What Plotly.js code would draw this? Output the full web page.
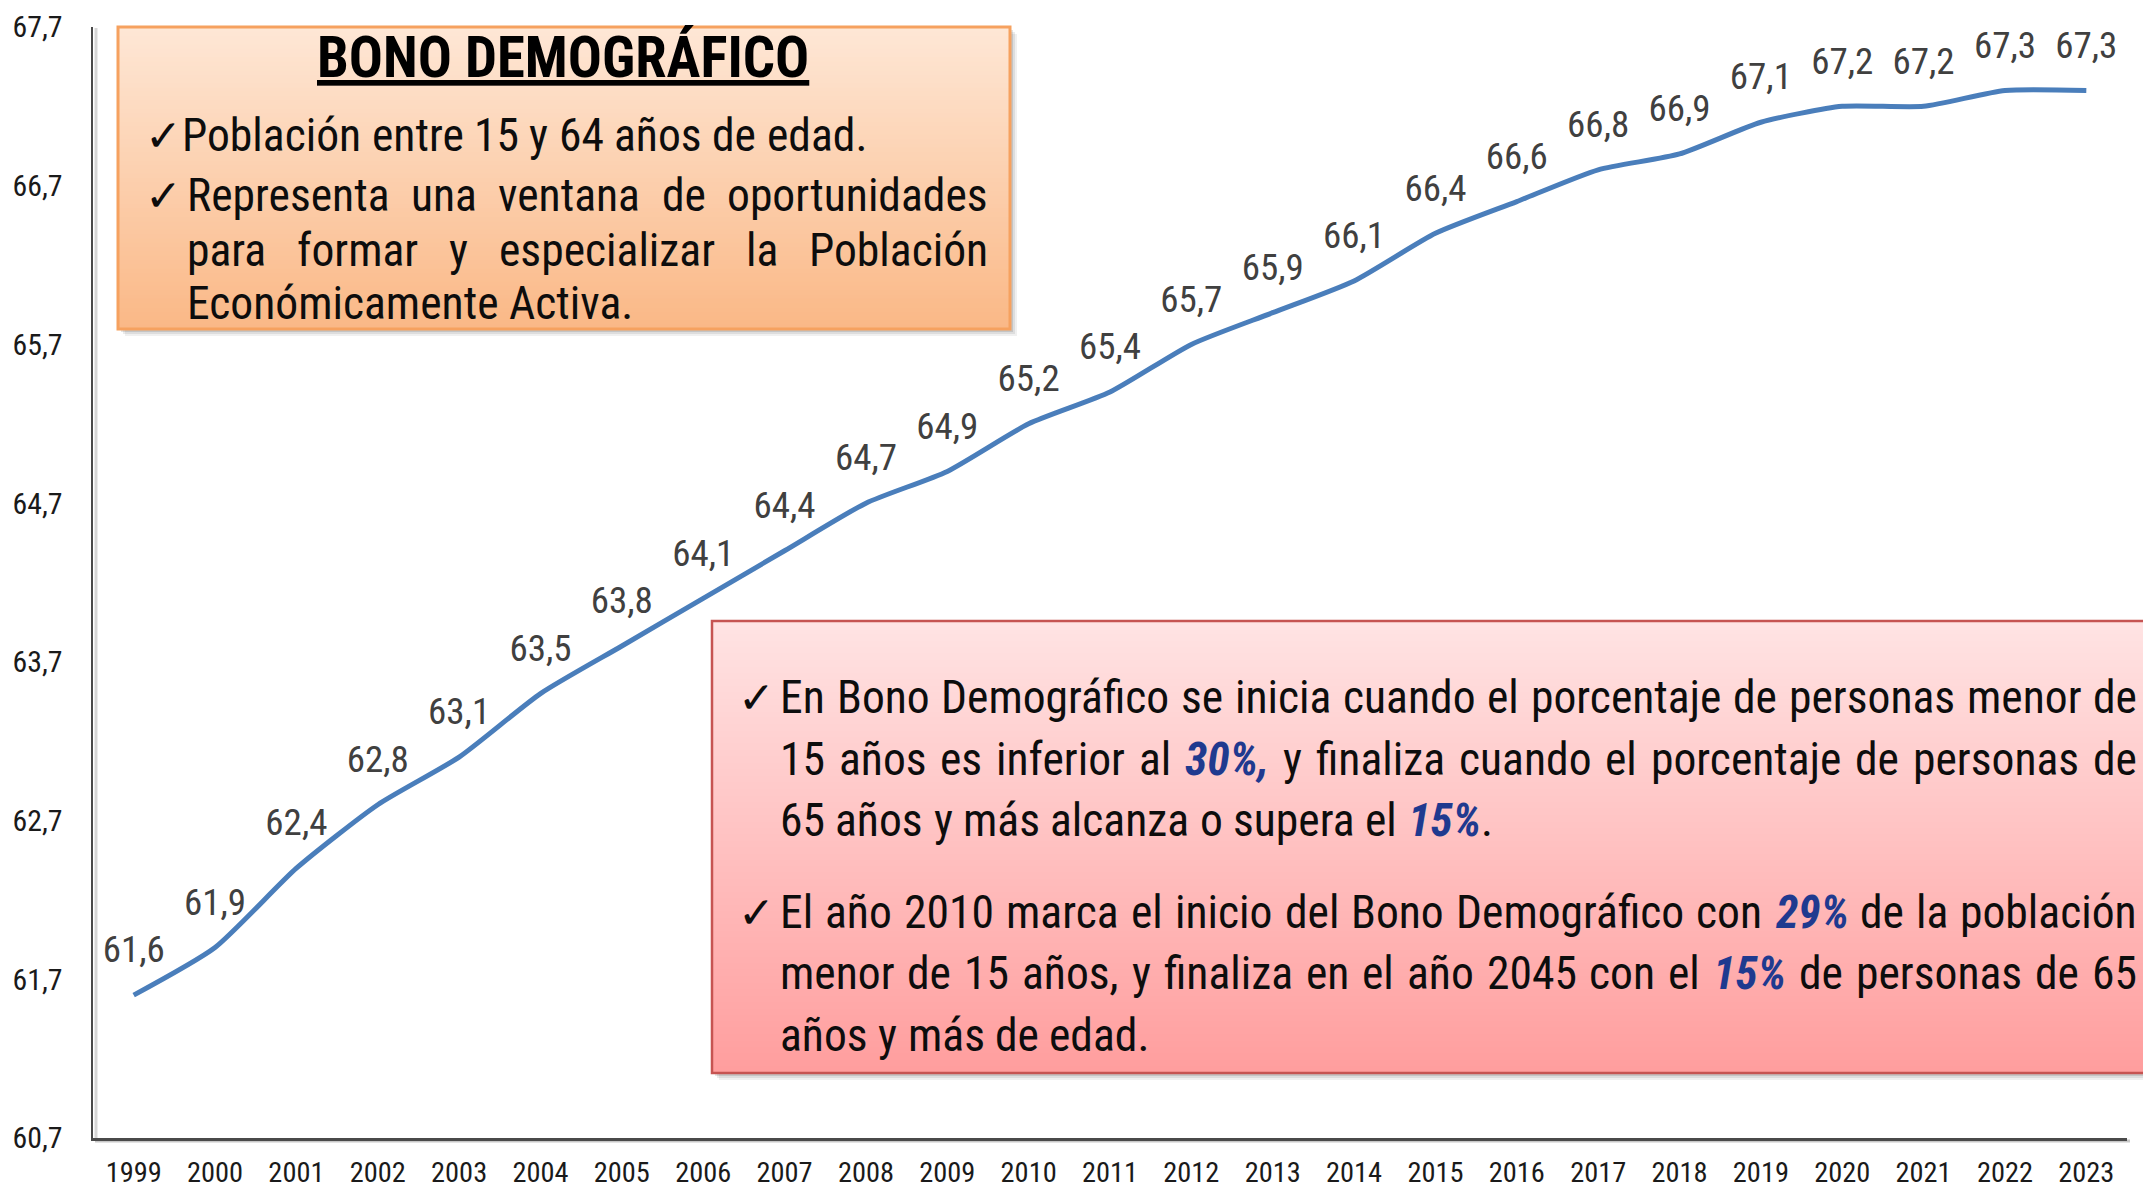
<!DOCTYPE html>
<html>
<head>
<meta charset="utf-8">
<script src="https://cdn.plot.ly/plotly-3.0.1.min.js"></script>
<style>html,body{margin:0;padding:0;background:#fff;overflow:hidden}</style>
</head>
<body>
<div id="chart" style="width:2143px;height:1189px"></div>
<script>
// ---------------- DATA ----------------
const years = ['1999','2000','2001','2002','2003','2004','2005','2006','2007','2008','2009','2010',
  '2011','2012','2013','2014','2015','2016','2017','2018','2019','2020','2021','2022','2023'];
const bonoValues = [61.6,61.9,62.4,62.8,63.1,63.5,63.8,64.1,64.4,64.7,64.9,65.2,
  65.4,65.7,65.9,66.1,66.4,66.6,66.8,66.9,67.1,67.2,67.2,67.3,67.3];
const yTickValues = [60.7,61.7,62.7,63.7,64.7,65.7,66.7,67.7];

const box1Title = 'BONO DEMOGRÁFICO';
const box1Text = [
  'Población entre 15 y 64 años de edad.',
  'Representa una ventana de oportunidades',
  'para formar y especializar la Población',
  'Económicamente Activa.'
];
// *...* marks the blue bold-italic figures
const box2Text = [
  'En Bono Demográfico se inicia cuando el porcentaje de personas menor de',
  '15 años es inferior al *30%,* y finaliza cuando el porcentaje de personas de',
  '65 años y más alcanza o supera el *15%*.',
  'El año 2010 marca el inicio del Bono Demográfico con *29%* de la población',
  'menor de 15 años, y finaliza en el año 2045 con el *15%* de personas de 65',
  'años y más de edad.'
];

// ---------------- STYLE / LAYOUT ----------------
const W = 2143, H = 1189;
const M = {l: 93, r: 16, t: 27, b: 51};
const PW = W - M.l - M.r, PH = H - M.t - M.b;
const px = x => (x - M.l) / PW;
const py = y => (H - M.b - y) / PH;

const FAMILY = "'Roboto Condensed', 'Liberation Sans Narrow', 'Liberation Sans', Arial, sans-serif";
const EMPH = '#1F3A8F';

const cv = document.createElement('canvas').getContext('2d');
function w1(text, bold, italic) {
  cv.font = `${italic ? 'italic ' : ''}${bold ? 'bold ' : ''}100px ${FAMILY}`;
  return cv.measureText(text).width / 100;
}
// font sizes chosen so that text widths match the reference
const TEXT_SIZE = Math.round(686 / w1('Población entre 15 y 64 años de edad.') * 10) / 10;
const TITLE_SIZE = Math.round(492 / w1('BONO DEMOGRÁFICO', true) * 10) / 10;
const LABEL_SIZE = Math.round(62 / w1('61,6') * 10) / 10;
const YTICK_SIZE = Math.round(50 / w1('62,7') * 10) / 10;
const XTICK_SIZE = Math.round(56 / w1('1999') * 10) / 10;

const shapes = [];
const annotations = [];

function mix(a, b, t) {
  const c = a.map((v, i) => Math.round(v + (b[i] - v) * t));
  return `rgb(${c[0]},${c[1]},${c[2]})`;
}
function gradientBox(x0, y0, x1, y1, top, bottom, border, bw) {
  [[7, 0.06], [5, 0.08], [3, 0.11]].forEach(([o, a]) => {
    shapes.push({type: 'rect', xref: 'paper', yref: 'paper', layer: 'below',
      x0: px(x0 + o), x1: px(x1 + o), y0: py(y1 + o), y1: py(y0 + o),
      line: {width: 0}, fillcolor: `rgba(0,0,0,${a})`});
  });
  const N = 70, h = (y1 - y0) / N;
  for (let i = 0; i < N; i++) {
    shapes.push({type: 'rect', xref: 'paper', yref: 'paper', layer: 'below',
      x0: px(x0), x1: px(x1), y0: py(y0 + (i + 1) * h + 0.8), y1: py(y0 + i * h),
      line: {width: 0}, fillcolor: mix(top, bottom, (i + 0.5) / N)});
  }
  shapes.push({type: 'rect', xref: 'paper', yref: 'paper', layer: 'below',
    x0: px(x0), x1: px(x1), y0: py(y1), y1: py(y0),
    line: {width: bw, color: border}, fillcolor: 'rgba(0,0,0,0)'});
}
gradientBox(118, 27, 1010, 329, [254, 231, 214], [250, 184, 134], '#F6A15F', 3);
gradientBox(712, 621, 2170, 1073, [255, 227, 227], [255, 157, 157], '#C65452', 2.5);

// axis shadows
shapes.push({type: 'line', xref: 'paper', yref: 'paper', layer: 'below',
  x0: px(95), x1: px(2130), y0: py(1141), y1: py(1141), line: {color: 'rgba(0,0,0,0.22)', width: 3}});
shapes.push({type: 'line', xref: 'paper', yref: 'paper', layer: 'below',
  x0: px(96), x1: px(96), y0: py(1141), y1: py(28), line: {color: 'rgba(0,0,0,0.16)', width: 3}});

function segs(word) {
  return word.split('*').map((t, i) => ({t, em: i % 2 === 1})).filter(s => s.t.length);
}
function wordWidth(word, size) {
  return segs(word).reduce((a, s) => a + w1(s.t, s.em, s.em) * size, 0);
}
function wordHtml(word) {
  return segs(word).map(s => s.em ? `<b><i><span style="color:${EMPH}">${s.t}</span></i></b>` : s.t).join('');
}
function placeLine(text, x0, x1, yc, size, justify) {
  const words = text.split(' ');
  const ws = words.map(w => wordWidth(w, size));
  let gap = w1(' ') * size;
  if (justify && words.length > 1) {
    gap = Math.max(2, (x1 - x0 - ws.reduce((a, b) => a + b, 0)) / (words.length - 1));
  }
  let x = x0;
  words.forEach((w, i) => {
    annotations.push({x: px(x), y: py(yc), xref: 'paper', yref: 'paper', xanchor: 'left', yanchor: 'middle',
      text: wordHtml(w), showarrow: false, borderpad: 0,
      font: {family: FAMILY, size: size, color: '#0d0d0d'}});
    x += ws[i] + gap;
  });
}
function check(x, yc) {
  annotations.push({x: px(x), y: py(yc), xref: 'paper', yref: 'paper', xanchor: 'left', yanchor: 'middle',
    text: '<b>✓</b>', showarrow: false, borderpad: 0, font: {family: 'DejaVu Sans', size: 44, color: '#0d0d0d'}});
}

// box 1 text
annotations.push({x: px(563), y: py(58), xref: 'paper', yref: 'paper', xanchor: 'center', yanchor: 'middle',
  text: '<b><u>' + box1Title + '</u></b>', showarrow: false, borderpad: 0,
  font: {family: FAMILY, size: TITLE_SIZE, color: '#000'}});
const b1y = [135, 195, 251, 303];
const b1just = [false, true, true, false];
const b1check = [true, true, false, false];
box1Text.forEach((t, i) => {
  if (b1check[i]) check(144, b1y[i]);
  placeLine(t, i === 0 ? 181 : 186, 987, b1y[i], TEXT_SIZE, b1just[i]);
});

// box 2 text
const b2y = [697, 759, 820, 912, 973, 1035];
const b2just = [true, true, false, true, true, false];
const b2check = [true, false, false, true, false, false];
box2Text.forEach((t, i) => {
  if (b2check[i]) check(737, b2y[i]);
  placeLine(t, 779, 2136, b2y[i], TEXT_SIZE, b2just[i]);
});

const trace = {
  type: 'scatter',
  x: years,
  y: bonoValues,
  mode: 'lines+markers+text',
  line: {color: '#4A7EBB', width: 5, shape: 'spline', smoothing: 0.6},
  marker: {size: 36, opacity: 0, color: '#4A7EBB'},
  texttemplate: '%{y:.1f}',
  textposition: 'top center',
  textfont: {family: FAMILY, size: LABEL_SIZE, color: '#404040'},
  cliponaxis: false,
  hoverinfo: 'skip'
};

const layout = {
  width: W, height: H,
  margin: M,
  separators: ',.',
  paper_bgcolor: '#ffffff',
  plot_bgcolor: 'rgba(0,0,0,0)',
  showlegend: false,
  xaxis: {
    type: 'category', range: [-0.5, 24.5], showgrid: false, zeroline: false,
    showline: true, linecolor: '#4a4a4a', linewidth: 2.5, ticks: '',
    ticklabelstandoff: 7,
    tickfont: {family: FAMILY, size: XTICK_SIZE, color: '#1a1a1a'}
  },
  yaxis: {
    range: [60.7, 67.7], tickvals: yTickValues, tickformat: '.1f',
    showgrid: false, zeroline: false, showline: true, linecolor: '#4a4a4a', linewidth: 2.5,
    ticks: '', ticklabelstandoff: 22,
    tickfont: {family: FAMILY, size: YTICK_SIZE, color: '#1a1a1a'}
  },
  shapes: shapes,
  annotations: annotations
};

Plotly.newPlot('chart', [trace], layout, {displayModeBar: false, staticPlot: true});
</script>
</body>
</html>
